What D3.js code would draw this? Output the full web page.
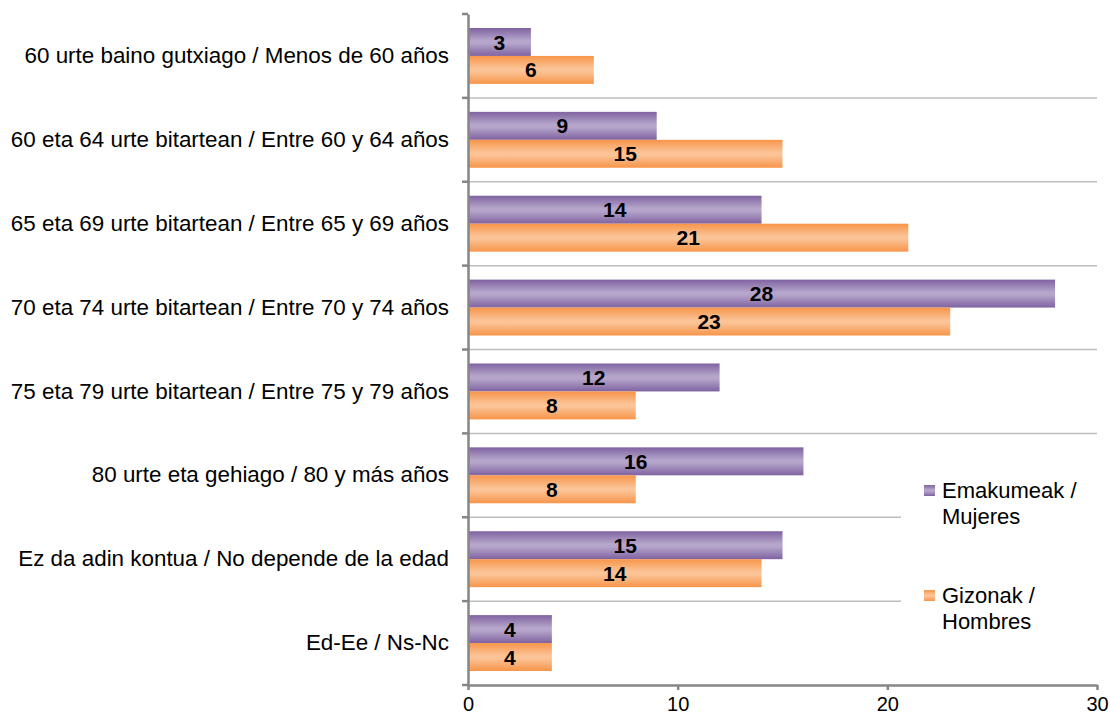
<!DOCTYPE html>
<html>
<head>
<meta charset="utf-8">
<script src="https://cdn.jsdelivr.net/npm/d3@7"></script>
<style>
  html, body { margin: 0; padding: 0; background: #fff; }
  svg { display: block; font-family: "Liberation Sans", Arial, sans-serif; }
</style>
</head>
<body>
<svg id="chart" width="1110" height="715"></svg>
<script>
const categories = [
  "60 urte baino gutxiago / Menos de 60 años",
  "60 eta 64 urte bitartean / Entre 60 y 64 años",
  "65 eta 69 urte bitartean / Entre 65 y 69 años",
  "70 eta 74 urte bitartean / Entre 70 y 74 años",
  "75 eta 79 urte bitartean / Entre 75 y 79 años",
  "80 urte eta gehiago / 80 y más años",
  "Ez da adin kontua / No depende de la edad",
  "Ed-Ee / Ns-Nc"
];
const seriesNames = ["Emakumeak / Mujeres", "Gizonak / Hombres"];
const legendLines = [["Emakumeak /", "Mujeres"], ["Gizonak /", "Hombres"]];
const mujeres = [3, 9, 14, 28, 12, 16, 15, 4];
const hombres = [6, 15, 21, 23, 8, 8, 14, 4];
const xTicks = [0, 10, 20, 30];

const svg = d3.select("#chart");
const mLeft = 468, mRight = 1097, mTop = 14, mBottom = 685;

const x = d3.scaleLinear().domain([0, 30]).range([mLeft, mRight]);
const y = d3.scaleBand().domain(categories).range([mTop, mBottom]).padding(0);
const bw = y.bandwidth();
const y1 = d3.scaleBand().domain(seriesNames).range([bw / 6, bw * 5 / 6]).padding(0);

// gradients
const defs = svg.append("defs");
const grads = [
  { id: "gPurple", edge: "#7f63a1", mid: "#b5a5ca" },
  { id: "gOrange", edge: "#f7954a", mid: "#fbc396" }
];
grads.forEach(g => {
  const lg = defs.append("linearGradient").attr("id", g.id)
    .attr("x1", 0).attr("y1", 0).attr("x2", 0).attr("y2", 1);
  lg.append("stop").attr("offset", "0%").attr("stop-color", g.edge);
  lg.append("stop").attr("offset", "45%").attr("stop-color", g.mid);
  lg.append("stop").attr("offset", "55%").attr("stop-color", g.mid);
  lg.append("stop").attr("offset", "100%").attr("stop-color", g.edge);
});

// gridlines at band boundaries
const boundaries = categories.map(c => y(c)).concat([y(categories[categories.length - 1]) + bw]);
svg.append("g").selectAll("line")
  .data(boundaries.slice(1, -1))
  .join("line")
  .attr("x1", mLeft).attr("x2", mRight)
  .attr("y1", d => d).attr("y2", d => d)
  .attr("stroke", "#bdbdbd").attr("stroke-width", 1.5);

// bars
const data = categories.map((c, i) => ({ cat: c, vals: [mujeres[i], hombres[i]] }));
const groups = svg.append("g").selectAll("g")
  .data(data).join("g")
  .attr("transform", d => `translate(0,${y(d.cat)})`);

groups.selectAll("rect")
  .data(d => d.vals.map((v, k) => ({ v, k })))
  .join("rect")
  .attr("x", x(0))
  .attr("y", d => y1(seriesNames[d.k]))
  .attr("width", d => x(d.v) - x(0))
  .attr("height", y1.bandwidth())
  .attr("fill", d => d.k === 0 ? "url(#gPurple)" : "url(#gOrange)");

groups.selectAll("text")
  .data(d => d.vals.map((v, k) => ({ v, k })))
  .join("text")
  .attr("x", d => (x(0) + x(d.v)) / 2)
  .attr("y", d => y1(seriesNames[d.k]) + y1.bandwidth() / 2)
  .attr("dy", "0.36em")
  .attr("text-anchor", "middle")
  .attr("font-weight", "bold")
  .attr("font-size", 21)
  .attr("fill", "#000")
  .text(d => d.v);

// legend background (covers gridlines)
svg.append("rect").attr("x", 901).attr("y", 470).attr("width", 209).attr("height", 170).attr("fill", "#fff");
const legendColors = ["url(#gPurple)", "url(#gOrange)"];
const legendY = [485, 590];
legendLines.forEach((lines, i) => {
  svg.append("rect").attr("x", 924).attr("y", legendY[i]).attr("width", 11).attr("height", 11)
    .attr("fill", legendColors[i]);
  lines.forEach((t, j) => {
    svg.append("text").attr("x", 942).attr("y", legendY[i] + 13 + j * 26)
      .attr("font-size", 22).attr("fill", "#000").text(t);
  });
});

// left axis
const yAxis = svg.append("g").attr("transform", `translate(${mLeft},0)`)
  .call(d3.axisLeft(y).tickSize(0).tickPadding(19));
yAxis.select(".domain").attr("stroke", "#868686").attr("stroke-width", 2.5);
yAxis.selectAll("text").attr("font-size", 22.4).attr("fill", "#000")
  .attr("font-family", '"Liberation Sans", Arial, sans-serif');
yAxis.selectAll(".bticks").data(boundaries).join("line")
  .attr("x1", -6).attr("x2", 0).attr("y1", d => d).attr("y2", d => d)
  .attr("stroke", "#868686").attr("stroke-width", 2.5);

// bottom axis
const xAxis = svg.append("g").attr("transform", `translate(0,${mBottom})`)
  .call(d3.axisBottom(x).tickValues(xTicks).tickSize(5).tickPadding(7).tickSizeOuter(0));
xAxis.select(".domain").attr("stroke", "#868686").attr("stroke-width", 2.5);
xAxis.selectAll(".tick line").attr("stroke", "#868686").attr("stroke-width", 2.5);
xAxis.selectAll("text").attr("font-size", 20).attr("fill", "#000")
  .attr("font-family", '"Liberation Sans", Arial, sans-serif');
</script>
</body>
</html>
